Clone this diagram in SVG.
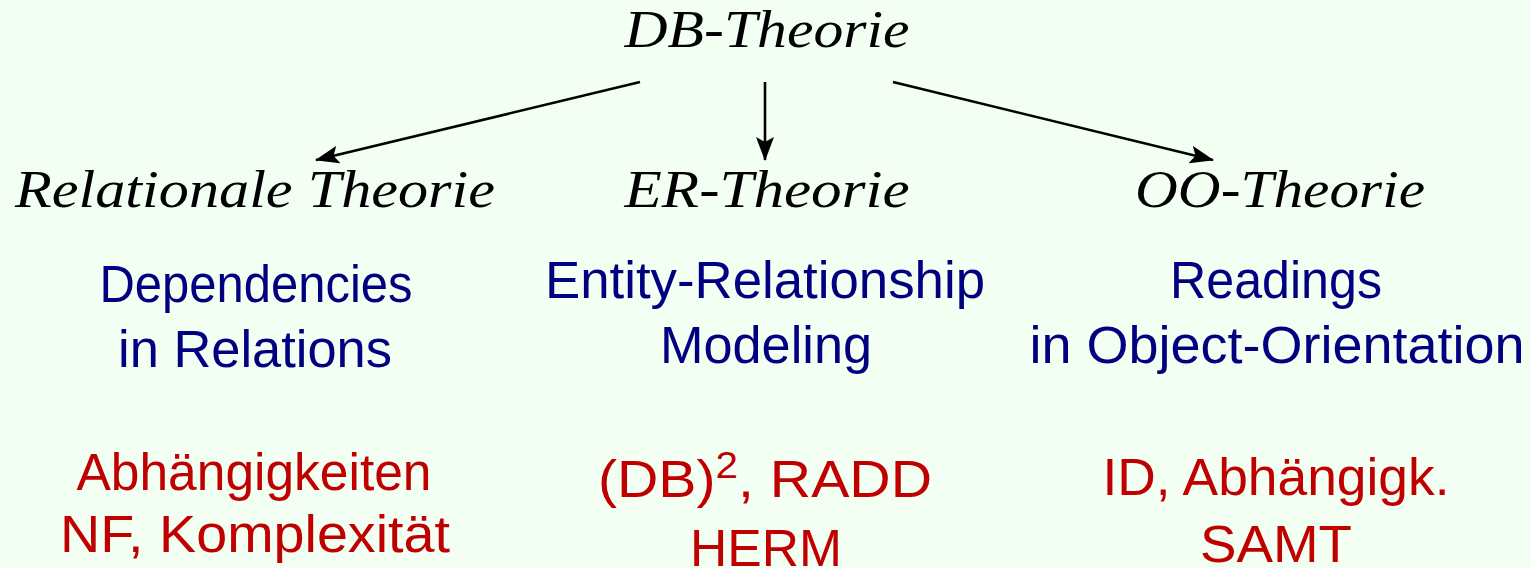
<svg xmlns="http://www.w3.org/2000/svg" width="1531" height="568" viewBox="0 0 1531 568">
<defs>
<style>
.it{font-family:"Liberation Serif",serif;font-style:italic;font-size:52px;fill:#000;text-anchor:middle}
.bl{font-family:"Liberation Sans",Arial,sans-serif;font-size:51px;fill:#000080;text-anchor:middle}
.rd{font-family:"Liberation Sans",Arial,sans-serif;font-size:51px;fill:#c00000;text-anchor:middle}
.ln{stroke:#000;stroke-width:2.6;fill:none;marker-end:url(#ah)}
</style>
<marker id="ah" viewBox="0 0 24 18" refX="23" refY="9" markerWidth="24" markerHeight="18" markerUnits="userSpaceOnUse" orient="auto">
<path d="M0,0 L24,9 L0,18 L5,9 Z" fill="#000"/>
</marker>
</defs>
<rect width="1531" height="568" fill="#f2fff2"/>
<g id="root"><text class="it" x="767" y="47" textLength="285" lengthAdjust="spacingAndGlyphs">DB-Theorie</text></g>
<g id="connectors">
<path class="ln" d="M640,82 L316,160"/>
<path class="ln" d="M765,82 L765,160"/>
<path class="ln" d="M893,82 L1213,160"/>
</g>
<g id="relational">
<text class="it" x="255" y="207" textLength="480" lengthAdjust="spacingAndGlyphs">Relationale Theorie</text>
<text class="bl" x="256" y="302" textLength="313" lengthAdjust="spacingAndGlyphs">Dependencies</text>
<text class="bl" x="255" y="367" textLength="274" lengthAdjust="spacingAndGlyphs">in Relations</text>
<text class="rd" x="254" y="490" textLength="355" lengthAdjust="spacingAndGlyphs">Abhängigkeiten</text>
<text class="rd" x="255" y="552" textLength="390" lengthAdjust="spacingAndGlyphs">NF, Komplexität</text>
</g>
<g id="er">
<text class="it" x="767" y="207" textLength="285" lengthAdjust="spacingAndGlyphs">ER-Theorie</text>
<text class="bl" x="765" y="298" textLength="440" lengthAdjust="spacingAndGlyphs">Entity-Relationship</text>
<text class="bl" x="766" y="363" textLength="212" lengthAdjust="spacingAndGlyphs">Modeling</text>
<text class="rd" x="765" y="497" textLength="334" lengthAdjust="spacingAndGlyphs">(DB)<tspan dy="-19" font-size="36">2</tspan><tspan dy="19">, RADD</tspan></text>
<text class="rd" x="766" y="566" textLength="152" lengthAdjust="spacingAndGlyphs">HERM</text>
</g>
<g id="oo">
<text class="it" x="1280" y="207" textLength="290" lengthAdjust="spacingAndGlyphs">OO-Theorie</text>
<text class="bl" x="1276" y="298" textLength="212" lengthAdjust="spacingAndGlyphs">Readings</text>
<text class="bl" x="1277" y="363" textLength="495" lengthAdjust="spacingAndGlyphs">in Object-Orientation</text>
<text class="rd" x="1276" y="495" textLength="347" lengthAdjust="spacingAndGlyphs">ID, Abhängigk.</text>
<text class="rd" x="1276" y="562" textLength="152" lengthAdjust="spacingAndGlyphs">SAMT</text>
</g>
</svg>
